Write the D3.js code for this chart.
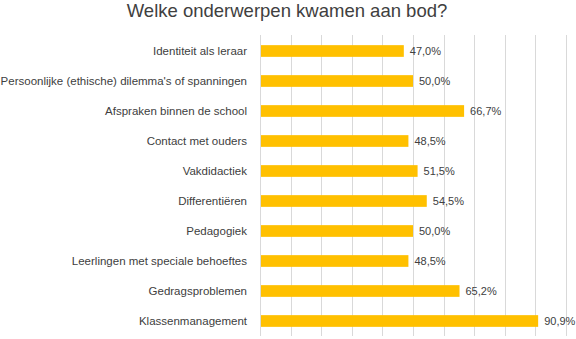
<!DOCTYPE html>
<html><head><meta charset="utf-8">
<script src="https://cdn.jsdelivr.net/npm/d3@7"></script>
<style>body{margin:0;background:#fff}svg{display:block}</style>
</head><body>
<svg id="chart" width="576" height="339"></svg>
<script>
const title = "Welke onderwerpen kwamen aan bod?";
const categories = ["Identiteit als leraar","Persoonlijke (ethische) dilemma's of spanningen","Afspraken binnen de school","Contact met ouders","Vakdidactiek","Differentiëren","Pedagogiek","Leerlingen met speciale behoeftes","Gedragsproblemen","Klassenmanagement"];
const values = [47.0,50.0,66.7,48.5,51.5,54.5,50.0,48.5,65.2,90.9];
const gridTicks = [0,10,20,30,40,50,60,70,80,90,100];

const svg = d3.select("#chart");
const m = {left:260, right:10, top:36, bottom:3};
const x = d3.scaleLinear().domain([0,100]).range([m.left, m.left+306]);
const y = d3.scaleBand().domain(categories).range([m.top, m.top+300]).paddingInner(0.61).paddingOuter(0.305);

svg.append("text").attr("x",287).attr("y",17).attr("text-anchor","middle")
  .attr("font-family","Liberation Sans, Arial, sans-serif").attr("font-size",18.5).attr("fill","#404040").text(title);

svg.append("g").selectAll("line").data(gridTicks).join("line")
  .attr("x1",d=>Math.round(x(d))+0.5).attr("x2",d=>Math.round(x(d))+0.5)
  .attr("y1",m.top-1).attr("y2",m.top+300)
  .attr("stroke","#d9d9d9").attr("stroke-width",1);

svg.append("g").selectAll("rect").data(values).join("rect")
  .attr("x",x(0)+1).attr("y",(d,i)=>y(categories[i]))
  .attr("width",d=>x(d)-x(0)-1).attr("height",y.bandwidth())
  .attr("fill","#FFC000");

const yAxis = d3.axisLeft(y).tickSize(0).tickPadding(13);
const ga = svg.append("g").attr("transform",`translate(${m.left},0)`).call(yAxis);
ga.select(".domain").attr("stroke","#d9d9d9").attr("d",`M0.5,${m.top-1}V${m.top+300}`);
ga.selectAll("text").attr("font-family","Liberation Sans, Arial, sans-serif").attr("font-size",11.5).attr("fill","#404040");

svg.append("g").selectAll("text").data(values).join("text")
  .attr("x",d=>x(d)+6).attr("y",(d,i)=>y(categories[i])+y.bandwidth()/2)
  .attr("dy","0.35em")
  .attr("font-family","Liberation Sans, Arial, sans-serif").attr("font-size",11).attr("fill","#404040")
  .text(d=>d.toFixed(1).replace(".",",")+"%");
</script>
</body></html>
